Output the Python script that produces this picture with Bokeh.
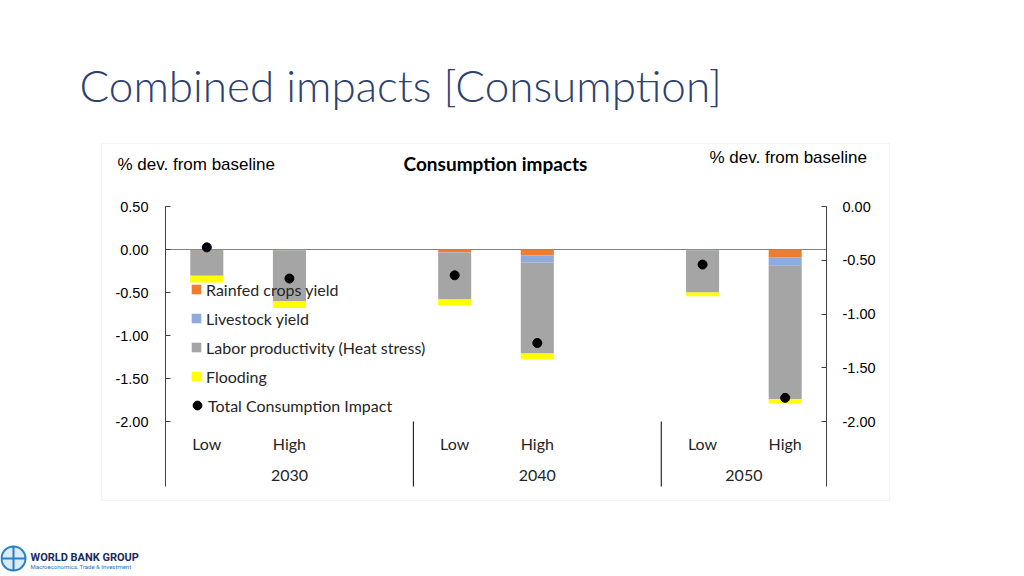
from bokeh.plotting import figure
from bokeh.models import (Range1d, LinearAxis, FixedTicker, Label, BoxAnnotation, Legend,
                          LegendItem, NumeralTickFormatter, ColumnDataSource)
from bokeh.embed import file_html
from bokeh.resources import INLINE
from bokeh.core.properties import value

# ---------------- data ----------------
year_groups = ["2030", "2040", "2050"]
scenario_levels = ["Low", "High"]
years = ["2030", "2030", "2040", "2040", "2050", "2050"]
scenarios = ["Low", "High", "Low", "High", "Low", "High"]
rainfed = [-0.005, -0.01, -0.035, -0.07, -0.01, -0.09]
livestock = [0.0, 0.0, -0.005, -0.08, 0.0, -0.10]
labor = [-0.30, -0.59, -0.54, -1.06, -0.49, -1.55]
flooding = [-0.08, -0.08, -0.07, -0.065, -0.045, -0.05]
total = [-0.38, -0.67, -0.64, -1.27, -0.54, -1.78]

left_ticks = [0.5, 0.0, -0.5, -1.0, -1.5, -2.0]
right_ticks = [0.0, -0.5, -1.0, -1.5, -2.0]

series_names = ["Rainfed crops yield", "Livestock yield",
                "Labor productivity (Heat stress)", "Flooding"]
series_colors = ["#ED7D31", "#8FAADC", "#A5A5A5", "#FFFF00"]

# slot positions: each year group has 3 slots (Low, High, blank)
xpos = [year_groups.index(y) * 3 + scenario_levels.index(s) + 0.5
        for y, s in zip(years, scenarios)]
group_centers = [year_groups.index(g) * 3 + (1.5 if g != year_groups[-1] else 1.0)
                 for g in year_groups]
separators = [year_groups.index(g) * 3 for g in year_groups[1:]]
n_slots = 3 * len(year_groups) - 1

# ---------------- layout constants (canvas pixels) ----------------
W, H = 1016, 572
PL, PR = 165, 826          # plot area left/right
PT, PZ, PB = 206, 249, 486  # top tick, zero line, bottom of axis lines
LSCALE = 86.0               # px per unit, left axis
RSCALE = 107.5              # px per unit, right axis
slot = (PR - PL) / n_slots

FONT = "Lato"
TXT = "#262626"

src = ColumnDataSource(dict(x=xpos, rainfed=rainfed, livestock=livestock,
                            labor=labor, flooding=flooding, total=total))

x_range = Range1d(-PL / slot, (W - PL) / slot)
y_range = Range1d((PZ - H) / LSCALE, PZ / LSCALE)
r_range = Range1d((PT - H) / RSCALE, PT / RSCALE)
left_bottom = (PZ - PB) / LSCALE
right_bottom = (PT - PB) / RSCALE

p = figure(width=W, height=H, x_range=x_range, y_range=y_range,
           x_axis_type=None, y_axis_type=None,
           output_backend="svg", toolbar_location=None,
           min_border_left=0, min_border_right=0,
           min_border_top=0, min_border_bottom=0)
p.extra_y_ranges = {"right": r_range}
p.xgrid.visible = False
p.ygrid.visible = False
p.outline_line_color = None
p.background_fill_color = "white"
p.border_fill_color = "white"

# chart box
p.add_layout(BoxAnnotation(left=101, right=889, top=H - 143, bottom=H - 500,
                           left_units="screen", right_units="screen",
                           top_units="screen", bottom_units="screen",
                           fill_alpha=0, line_color="#D9D9D9", line_width=1,
                           level="underlay"))

# zero line
p.segment(x0=[0], x1=[n_slots], y0=[0], y1=[0], line_color="#808080", line_width=1)

stack_cols = ["rainfed", "livestock", "labor", "flooding"]
bars = p.vbar_stack(stack_cols, x="x", width=0.4, source=src,
                    color=series_colors, line_width=0)

dots = p.scatter(x="x", y="total", source=src, size=9, color="black",
                 y_range_name="right")

# axes (fixed at the plot-area edges)
common = dict(formatter=NumeralTickFormatter(format="0.00"),
              major_tick_in=5, major_tick_out=0, minor_tick_line_color=None,
              axis_line_color="#404040", major_tick_line_color="#404040",
              major_label_text_font="Liberation Sans",
              major_label_text_font_size="14.5px", major_label_text_color="black")
la = LinearAxis(ticker=FixedTicker(ticks=left_ticks), fixed_location=0,
                bounds=(left_bottom, left_ticks[0]), major_label_standoff=17, **common)
p.add_layout(la, "left")
ra = LinearAxis(y_range_name="right", ticker=FixedTicker(ticks=right_ticks),
                fixed_location=n_slots, bounds=(right_bottom, right_ticks[0]),
                major_label_standoff=16, **common)
p.add_layout(ra, "right")

# category separators and labels
p.segment(x0=separators, x1=separators, y0=[left_ticks[-1]] * len(separators),
          y1=[left_bottom] * len(separators), line_color="black", line_width=1)
p.text(x=xpos, y=[left_ticks[-1]] * len(xpos), text=scenarios, y_offset=22,
       text_align="center", text_baseline="middle", text_font=value(FONT),
       text_font_size="16px", text_color=TXT)
p.text(x=group_centers, y=[left_ticks[-1]] * len(group_centers), text=year_groups,
       y_offset=54, text_align="center", text_baseline="middle",
       text_font=value(FONT), text_font_size="16px", text_color=TXT)

# legends
leg1 = Legend(items=[LegendItem(label=n, renderers=[r]) for n, r in zip(series_names, bars)],
              location=(190, H - 386), orientation="vertical",
              glyph_width=12, glyph_height=12, label_height=20, spacing=9,
              padding=0, margin=0, label_standoff=4,
              border_line_alpha=0, background_fill_alpha=0,
              label_text_font=FONT, label_text_font_size="16px",
              label_text_color=TXT)
p.add_layout(leg1)
leg2 = Legend(items=[LegendItem(label="Total Consumption Impact", renderers=[dots])],
              location=(186, H - 416), orientation="vertical",
              glyph_width=22, glyph_height=22, label_height=20, spacing=0,
              padding=0, margin=0, label_standoff=0,
              border_line_alpha=0, background_fill_alpha=0,
              label_text_font=FONT, label_text_font_size="16px",
              label_text_color=TXT)
p.add_layout(leg2)

def lab(text, x, y, font, size, color, style="normal", align="left"):
    p.add_layout(Label(x=x, y=H - y, x_units="screen", y_units="screen", text=text,
                       text_font=font, text_font_size=size, text_color=color,
                       text_font_style=style, text_align=align,
                       text_baseline="middle"))

lab("Combined impacts [Consumption]", 79, 84, "Lato Light, Lato", "44px", "#2C416E")
lab("% dev. from baseline", 117, 164, "Liberation Sans", "17px", "black")
lab("% dev. from baseline", 709, 157, "Liberation Sans", "17px", "black")
lab("Consumption impacts", 495, 163, FONT, "19px", "black", "bold", "center")

# logo (globe mark + wordmark)
p.scatter(x=[(13 - PL) / slot], y=[(PZ - 558) / LSCALE], marker="circle_cross",
          size=24, fill_color="#DCEBF8", line_color="#2A7FC6", line_width=2)
lab("WORLD BANK GROUP", 30, 557, "Roboto", "11px", "#1B2A5C", "bold")
lab("Macroeconomics, Trade & Investment", 30, 566, "Roboto", "6px", "#1A75BC")

open("out.html", "w").write(file_html(p, INLINE))
